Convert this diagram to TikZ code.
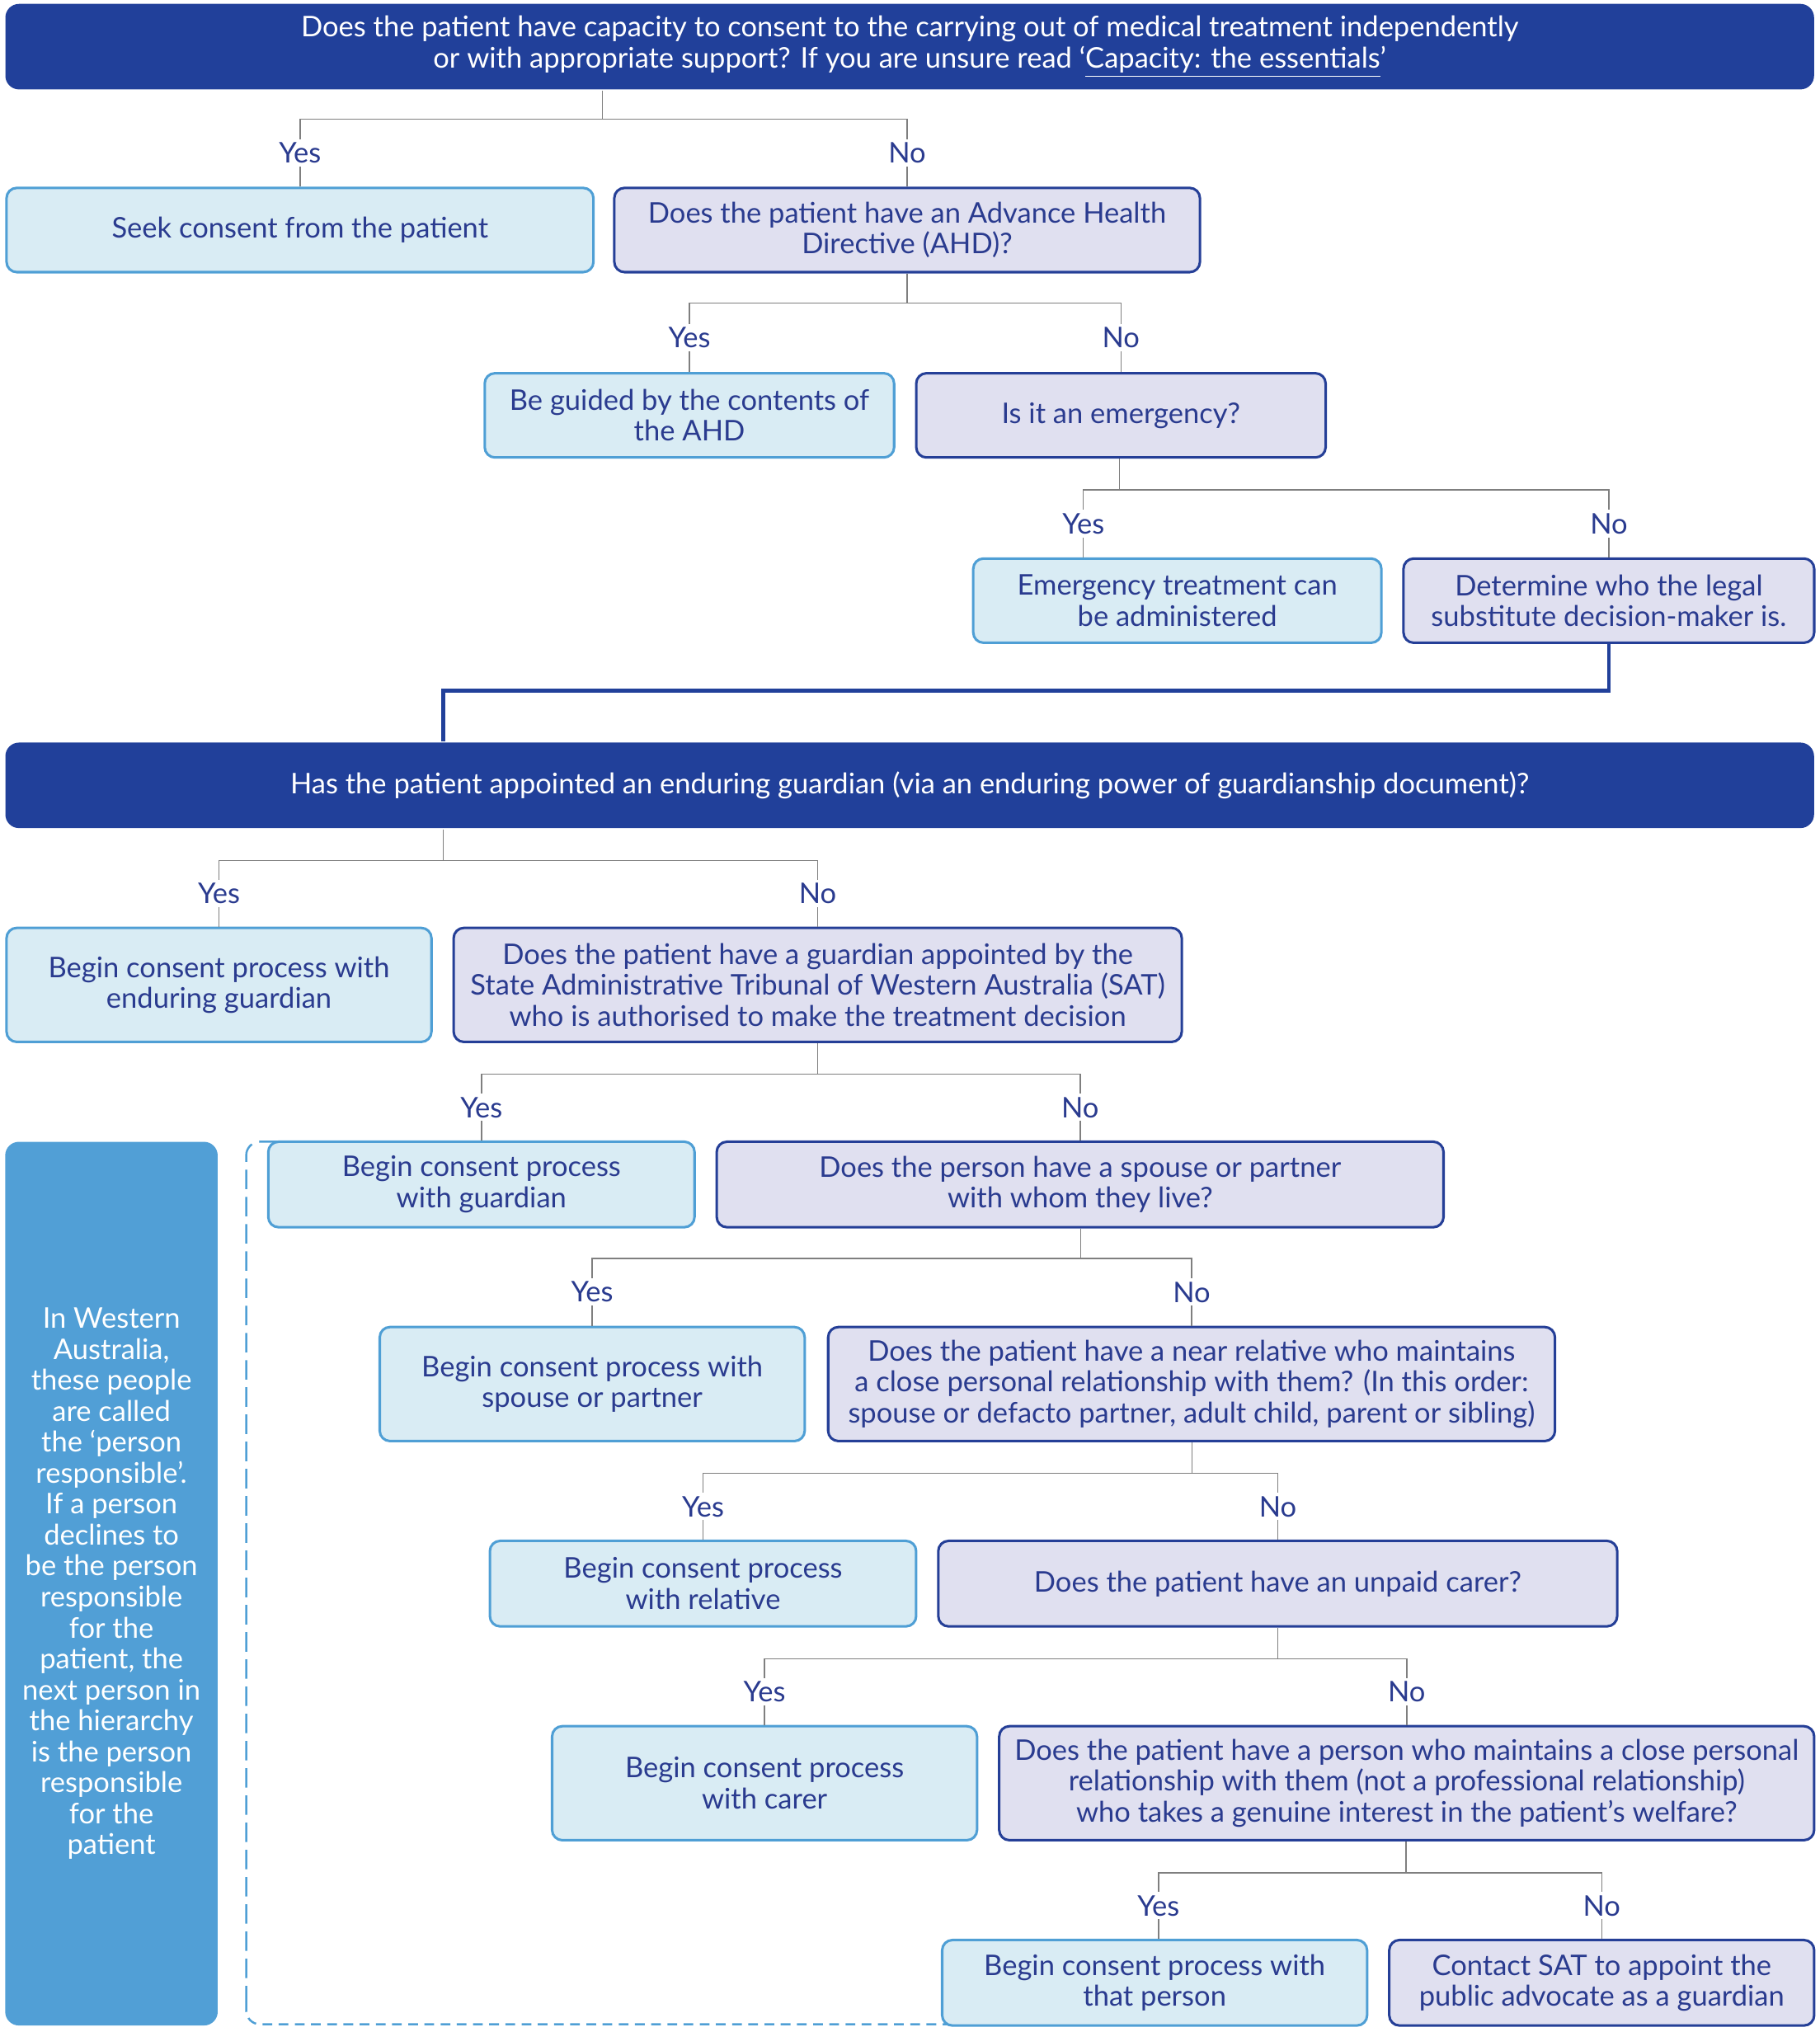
\documentclass[tikz,border=0pt]{standalone}
\usepackage{fontspec}
\setmainfont{Lato}
\definecolor{navy}{HTML}{21409A}
\definecolor{navytext}{HTML}{2A3B8F}
\definecolor{skyfill}{HTML}{D9ECF4}
\definecolor{skyline}{HTML}{4F9FD5}
\definecolor{lavfill}{HTML}{E0E0F0}
\definecolor{lavline}{HTML}{253F97}
\definecolor{sidefill}{HTML}{519FD6}
\definecolor{linkgray}{HTML}{7F7F7F}
\tikzset{
  box/.style={rounded corners=4.5pt,line width=1.1pt,align=center,text=navytext,inner sep=2pt,font=\fontsize{12.5}{13.6}\selectfont},
  yesbox/.style={box,draw=skyline,fill=skyfill},
  askbox/.style={box,draw=lavline,fill=lavfill},
  headbox/.style={box,rounded corners=6pt,draw=none,fill=navy,text=white},
  sidebox/.style={box,rounded corners=6pt,draw=none,fill=sidefill,text=white},
  link/.style={draw=linkgray,line width=0.55pt},
  yesno/.style={fill=white,inner sep=1.5pt,text=navytext,font=\fontsize{12.5}{13.6}\selectfont},
  dashline/.style={draw=skyline,line width=0.9pt}
}
\begin{document}
\begin{tikzpicture}[x=0.02cm,y=-0.02cm]
\useasboundingbox (0,0) rectangle (1404,1568);
% dashed bracket round the person responsible part
\draw[dashline,dash pattern=on 0.3cm off 0.12cm,rounded corners=6pt] (215,881) -| (190,1545);
\draw[dashline,dash pattern=on 0.15cm off 0.1cm,rounded corners=6pt] (190,1545) |- (735,1562);
% boxes
\node[headbox,minimum width=27.92cm,minimum height=1.32cm] (q1) at (702,36) {Does the patient have capacity to consent to the carrying out of medical treatment independently\\or with appropriate support? If you are unsure read ‘\underline{Capacity: the essentials}’};
\node[yesbox,minimum width=9.06cm,minimum height=1.3cm] (seek) at (231.5,177.5) {Seek consent from the patient};
\node[askbox,minimum width=9.04cm,minimum height=1.3cm] (ahd) at (700,177.5) {Does the patient have an Advance Health\\Directive (AHD)?};
\node[yesbox,minimum width=6.32cm,minimum height=1.3cm] (guided) at (532,320.5) {Be guided by the contents of\\the AHD};
\node[askbox,minimum width=6.32cm,minimum height=1.3cm] (emerg) at (865,320.5) {Is it an emergency?};
\node[yesbox,minimum width=6.3cm,minimum height=1.3cm] (emtreat) at (908.5,463.5) {Emergency treatment can\\be administered};
\node[askbox,minimum width=6.34cm,minimum height=1.3cm] (legal) at (1241.5,463.5) {Determine who the legal\\substitute decision-maker is.};
\node[headbox,minimum width=27.92cm,minimum height=1.32cm] (q2) at (702,606) {Has the patient appointed an enduring guardian (via an enduring power of guardianship document)?};
\node[yesbox,minimum width=6.56cm,minimum height=1.76cm] (enduring) at (169,760) {Begin consent process with\\enduring guardian};
\node[askbox,minimum width=11.24cm,minimum height=1.76cm] (sat) at (631,760) {Does the patient have a guardian appointed by the\\State Administrative Tribunal of Western Australia (SAT)\\who is authorised to make the treatment decision};
\node[yesbox,minimum width=6.58cm,minimum height=1.32cm] (guardian) at (371.5,914) {Begin consent process\\with guardian};
\node[askbox,minimum width=11.22cm,minimum height=1.32cm] (spouseq) at (833.5,914) {Does the person have a spouse or partner\\with whom they live?};
\node[yesbox,minimum width=6.56cm,minimum height=1.76cm] (spouse) at (457,1068) {Begin consent process with\\spouse or partner};
\node[askbox,minimum width=11.22cm,minimum height=1.76cm] (relq) at (919.5,1068) {Does the patient have a near relative who maintains\\a close personal relationship with them? (In this order:\\spouse or defacto partner, adult child, parent or sibling)};
\node[yesbox,minimum width=6.58cm,minimum height=1.32cm] (relative) at (542.5,1222) {Begin consent process\\with relative};
\node[askbox,minimum width=10.48cm,minimum height=1.32cm] (carerq) at (986,1222) {Does the patient have an unpaid carer?};
\node[yesbox,minimum width=6.56cm,minimum height=1.76cm] (carer) at (590,1376) {Begin consent process\\with carer};
\node[askbox,minimum width=12.58cm,minimum height=1.76cm] (personq) at (1085.5,1376) {Does the patient have a person who maintains a close personal\\relationship with them (not a professional relationship)\\who takes a genuine interest in the patient’s welfare?};
\node[yesbox,minimum width=6.56cm,minimum height=1.32cm] (that) at (891,1530) {Begin consent process with\\that person};
\node[askbox,minimum width=6.56cm,minimum height=1.32cm] (contact) at (1236,1530) {Contact SAT to appoint the\\public advocate as a guardian};
\node[sidebox,minimum width=3.28cm,minimum height=13.64cm] (side) at (86,1222) {In Western\\Australia,\\these people\\are called\\the ‘person\\responsible’.\\If a person\\declines to\\be the person\\responsible\\for the\\patient, the\\next person in\\the hierarchy\\is the person\\responsible\\for the\\patient};
% branch points
\coordinate (q1b) at (465,92);
\coordinate (ahdb) at (700,234);
\coordinate (emergb) at (864,378);
\coordinate (q2b) at (342,664);
\coordinate (satb) at (631,829);
\coordinate (spouseqb) at (834,971);
\coordinate (relqb) at (920,1137);
\coordinate (carerqb) at (986,1280);
\coordinate (personqb) at (1085,1445);
\coordinate (emtreatin) at (836,431);
\coordinate (thatin) at (894,1497);
\coordinate (q2in) at (342,533);
% yes/no connectors
\foreach \p/\y/\yx/\n in {q1/seek/seek/ahd,ahd/guided/guided/emerg,emerg/emtreat/emtreatin/legal,q2/enduring/enduring/sat,sat/guardian/guardian/spouseq,spouseq/spouse/spouse/relq,relq/relative/relative/carerq,carerq/carer/carer/personq,personq/that/thatin/contact}{
  \draw[link] (\p.south -| \p b) -- (\p b);
  \draw[link] (\y.north -| \yx) -- node[yesno]{Yes} (\yx |- \p b) -- (\n.north |- \p b) -- node[yesno]{No} (\n.north);
}
\draw[draw=navy,line width=1.7pt] (legal.south) |- (q2in) -- (q2.north -| q2in);
\end{tikzpicture}
\end{document}
